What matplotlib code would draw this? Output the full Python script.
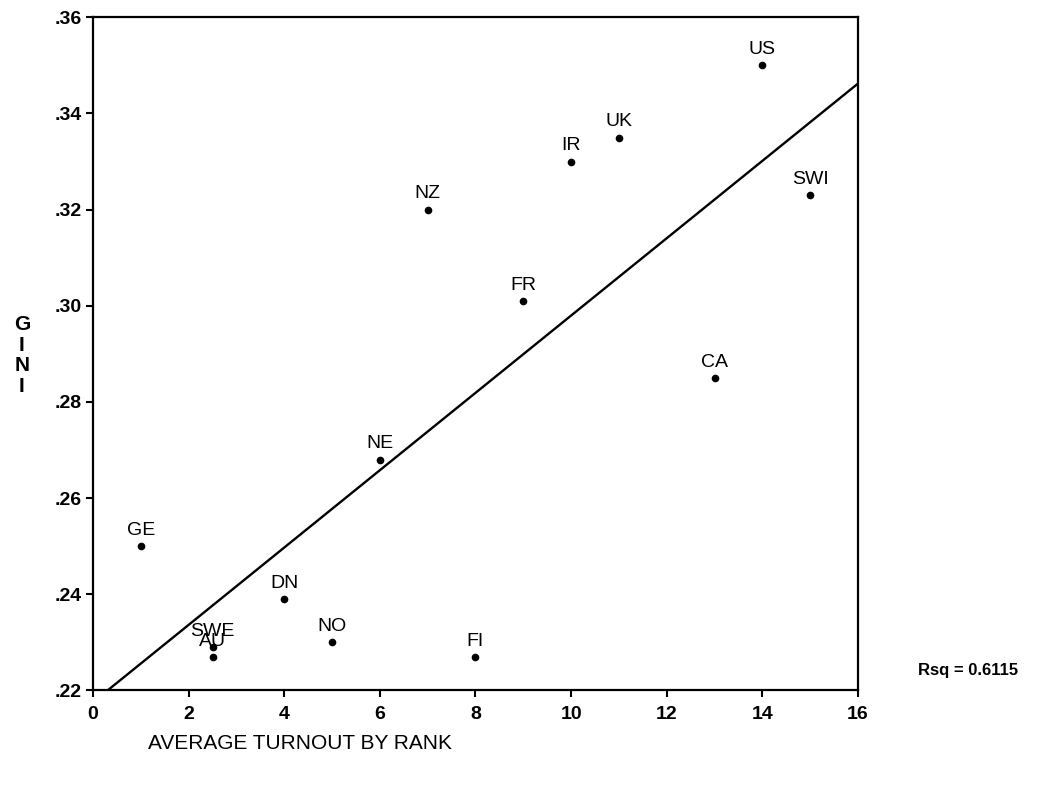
import numpy as np
import matplotlib
matplotlib.use("Agg")
import matplotlib.pyplot as plt

# country codes, turnout rank (x) and Gini (y)
countries = ["GE", "SWE", "AU", "DN", "NO", "NE", "NZ", "FI", "FR", "IR", "UK", "CA", "US", "SWI"]
turnout_rank = [1.0, 2.5, 2.5, 4.0, 5.0, 6.0, 7.0, 8.0, 9.0, 10.0, 11.0, 13.0, 14.0, 15.0]
gini = [0.250, 0.229, 0.227, 0.239, 0.230, 0.268, 0.320, 0.227, 0.301, 0.330, 0.335, 0.285, 0.350, 0.323]

x_ticks = [0, 2, 4, 6, 8, 10, 12, 14, 16]
y_ticks = [0.22, 0.24, 0.26, 0.28, 0.30, 0.32, 0.34, 0.36]
y_tick_labels = [".22", ".24", ".26", ".28", ".30", ".32", ".34", ".36"]
rsq_text = "Rsq = 0.6115"

plt.rcParams['font.family'] = ['Liberation Sans', 'DejaVu Sans']

fig = plt.figure(figsize=(10.45, 7.88), dpi=100)
ax = fig.add_axes([0.089, 0.124, 0.732, 0.854])

ax.plot(turnout_rank, gini, 'o', color='black', ms=4.5, zorder=3)

# least squares fit line across the whole x range
slope, icpt = np.polyfit(turnout_rank, gini, 1)
xs = np.array([0, 16])
ax.plot(xs, icpt + slope * xs, color='black', lw=1.7)

for c, x, y in zip(countries, turnout_rank, gini):
    ax.annotate(c, (x, y), xytext=(0, 8), textcoords='offset points',
                ha='center', va='baseline', fontsize=14)

ax.set_xlim(0, 16)
ax.set_ylim(0.22, 0.36)
ax.set_xticks(x_ticks)
ax.set_yticks(y_ticks)
ax.set_yticklabels(y_tick_labels)
for lab in ax.get_xticklabels() + ax.get_yticklabels():
    lab.set_fontweight('bold')
    lab.set_fontsize(14)
ax.tick_params(direction='out', length=5, width=1.5)
ax.tick_params(axis='x', pad=6)
ax.tick_params(axis='y', pad=3)
for s in ax.spines.values():
    s.set_linewidth(1.6)

fig.text(0.1416, 0.057, "AVERAGE TURNOUT BY RANK", fontsize=15, va='center', ha='left')
fig.text(0.021, 0.549, "G\nI\nN\nI", fontsize=15, ha='center', va='center',
         linespacing=1.1, fontweight='bold')
fig.text(0.878, 0.149, rsq_text, fontsize=12, fontweight='bold', va='center', ha='left')

fig.savefig("out.png", dpi=100)
